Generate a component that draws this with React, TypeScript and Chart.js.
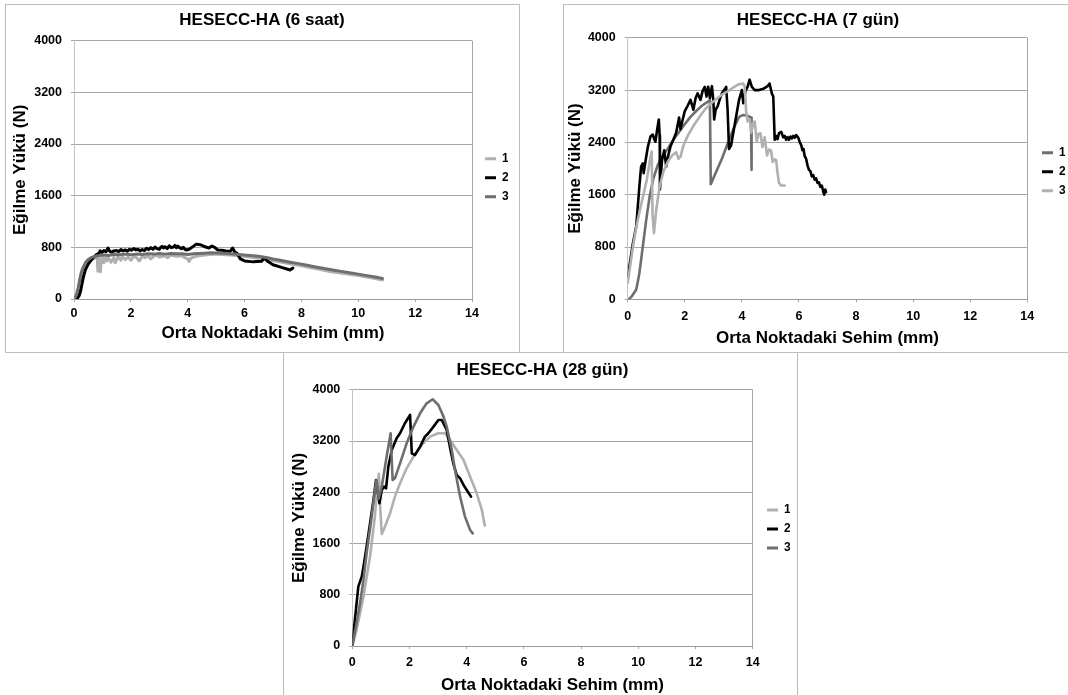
import React, { useEffect, useRef } from "react";
import { Chart, registerables } from "chart.js";

Chart.register(...registerables);

// ---------------- DATA ----------------
const yTickValues = [0, 800, 1600, 2400, 3200, 4000];
const xTickValues = [0, 2, 4, 6, 8, 10, 12, 14];
const seriesNames = ["1", "2", "3"];
const chartTitles = ["HESECC-HA (6 saat)", "HESECC-HA (7 gün)", "HESECC-HA (28 gün)"];
const xAxisTitle = "Orta Noktadaki Sehim (mm)";
const yAxisTitle = "Eğilme Yükü (N)";

// 6 saat
const saat6S1X = [0, 0.08, 0.15, 0.22, 0.3, 0.4, 0.5, 0.6, 0.7, 0.78, 0.82, 0.84, 0.87, 0.93, 0.96, 1.0, 1.05, 1.1, 1.15, 1.2, 1.3, 1.4, 1.45, 1.55, 1.65, 1.7, 1.8, 1.9, 2.0, 2.1, 2.2, 2.3, 2.4, 2.5, 2.6, 2.7, 2.8, 2.9, 3.0, 3.2, 3.3, 3.4, 3.6, 3.8, 3.9, 4.0, 4.05, 4.1, 4.2, 4.4, 4.6, 4.8, 5.0, 5.2, 5.5, 5.8, 6.1, 6.5, 7.0, 7.5, 8.0, 8.5, 9.0, 9.5, 10.0, 10.5, 10.85];
const saat6S1Y = [0, 40, 110, 220, 380, 500, 570, 610, 630, 640, 620, 430, 630, 420, 620, 640, 560, 630, 590, 640, 570, 640, 560, 650, 600, 660, 610, 650, 600, 660, 640, 590, 660, 640, 670, 620, 660, 680, 650, 670, 640, 680, 660, 670, 640, 620, 580, 630, 650, 670, 680, 690, 695, 690, 680, 670, 655, 630, 595, 555, 515, 470, 425, 395, 365, 325, 295];
const saat6S2X = [0.05, 0.12, 0.18, 0.23, 0.28, 0.33, 0.4, 0.5, 0.6, 0.7, 0.8, 0.88, 0.92, 0.98, 1.05, 1.12, 1.2, 1.25, 1.32, 1.4, 1.5, 1.58, 1.65, 1.72, 1.8, 1.88, 1.95, 2.02, 2.1, 2.18, 2.25, 2.32, 2.4, 2.48, 2.55, 2.62, 2.7, 2.78, 2.85, 2.92, 3.0, 3.05, 3.1, 3.15, 3.2, 3.28, 3.35, 3.42, 3.5, 3.55, 3.6, 3.65, 3.7, 3.78, 3.85, 3.9, 3.95, 4.05, 4.15, 4.3, 4.45, 4.6, 4.75, 4.85, 4.95, 5.05, 5.2, 5.35, 5.5, 5.58, 5.65, 5.75, 5.85, 6.0, 6.3, 6.6, 6.7, 6.8, 7.0, 7.3, 7.6, 7.7];
const saat6S2Y = [0, 10, 50, 120, 230, 340, 450, 540, 600, 650, 690, 710, 745, 720, 750, 730, 790, 740, 725, 745, 750, 735, 765, 745, 760, 740, 770, 755, 780, 760, 770, 745, 765, 750, 785, 765, 795, 770, 805, 780, 770, 800, 815, 790, 810, 780, 825, 795, 805, 830, 795, 820, 800, 780, 800, 770, 760, 770, 800, 850, 840, 810, 790, 820, 800, 760, 755, 745, 740, 790, 730, 700, 620, 590, 575, 585, 640, 590, 530, 490, 450, 480];
const saat6S3X = [0, 0.05, 0.1, 0.15, 0.2, 0.25, 0.3, 0.4, 0.5, 0.6, 0.7, 0.8, 0.9, 1.0, 1.2, 1.4, 1.6, 1.8, 2.0, 2.2, 2.4, 2.6, 2.8, 3.0, 3.2, 3.4, 3.6, 3.8, 4.0, 4.2, 4.4, 4.6, 4.8, 5.0, 5.2, 5.4, 5.6, 5.8, 6.0, 6.2, 6.4, 6.6, 6.8, 7.0, 7.3, 7.6, 7.9, 8.2, 8.5, 8.8, 9.1, 9.4, 9.7, 10.0, 10.3, 10.6, 10.85];
const saat6S3Y = [0, 30, 90, 180, 300, 400, 470, 560, 610, 640, 655, 665, 675, 680, 675, 690, 685, 695, 685, 695, 690, 700, 695, 705, 695, 705, 700, 700, 690, 700, 705, 710, 715, 712, 708, 704, 698, 690, 680, 672, 665, 655, 640, 620, 595, 570, 548, 522, 496, 472, 450, 428, 405, 385, 362, 340, 318];

// 7 gün
const gun7S1X = [0.04, 0.15, 0.3, 0.41, 0.53, 0.65, 0.77, 0.9, 1.05, 1.2, 1.4, 1.6, 1.8, 2.0, 2.2, 2.4, 2.6, 2.8, 2.88, 2.91, 3.1, 3.3, 3.5, 3.7, 3.9, 4.05, 4.2, 4.32, 4.34];
const gun7S1Y = [0, 50, 150, 400, 810, 1220, 1575, 1850, 2050, 2180, 2300, 2440, 2560, 2680, 2790, 2880, 2960, 3020, 3050, 1760, 1950, 2150, 2380, 2600, 2790, 2820, 2810, 2780, 1980];
const gun7S2X = [0, 0.08, 0.18, 0.3, 0.41, 0.47, 0.53, 0.56, 0.63, 0.71, 0.8, 0.88, 0.93, 0.97, 1.03, 1.09, 1.12, 1.13, 1.2, 1.28, 1.35, 1.42, 1.5, 1.6, 1.7, 1.8, 1.85, 1.9, 2.0, 2.1, 2.2, 2.3, 2.38, 2.45, 2.55, 2.62, 2.7, 2.76, 2.82, 2.88, 2.95, 3.0, 3.03, 3.08, 3.15, 3.22, 3.3, 3.38, 3.45, 3.5, 3.55, 3.62, 3.7, 3.8, 3.9, 4.0, 4.05, 4.12, 4.2, 4.27, 4.35, 4.45, 4.6, 4.75, 4.9, 4.97, 5.05, 5.1, 5.15, 5.2, 5.25, 5.3, 5.38, 5.45, 5.5, 5.55, 5.6, 5.65, 5.7, 5.75, 5.8, 5.85, 5.9, 5.98, 6.03, 6.08, 6.12, 6.16, 6.2, 6.25, 6.3, 6.35, 6.4, 6.45, 6.5, 6.55, 6.6, 6.65, 6.7, 6.75, 6.8, 6.85, 6.88, 6.92, 6.95];
const gun7S2Y = [350, 560, 850, 1120, 1730, 2030, 2080, 1930, 2130, 2340, 2490, 2520, 2450, 2410, 2590, 2750, 2500, 1680, 2120, 2280, 2030, 2200, 2340, 2440, 2550, 2780, 2600, 2700, 2880, 2960, 3050, 2900, 3080, 3150, 3050, 3180, 3250, 3100, 3250, 3080, 3260, 3050, 2750, 2900, 2950, 3050, 3150, 3200, 3250, 2900, 2300, 2350, 2550, 2800, 3050, 3200, 3000, 3180, 3250, 3360, 3250, 3200, 3200, 3220, 3260, 3300, 3150, 3100, 2440, 2500, 2450, 2540, 2560, 2480, 2500, 2440, 2480, 2440, 2490, 2460, 2500, 2470, 2510, 2470, 2400, 2360, 2280, 2300, 2190, 2150, 2050, 1980, 1960, 1880, 1900, 1830, 1850, 1780, 1790, 1720, 1740, 1650, 1600, 1680, 1640];
const gun7S3X = [0, 0.1, 0.2, 0.3, 0.43, 0.55, 0.67, 0.78, 0.84, 0.87, 0.92, 1.0, 1.12, 1.25, 1.4, 1.55, 1.7, 1.78, 1.85, 1.95, 2.1, 2.3, 2.5, 2.7, 2.9, 3.1, 3.3, 3.5, 3.7, 3.9, 4.05, 4.1, 4.15, 4.2, 4.28, 4.33, 4.4, 4.45, 4.52, 4.58, 4.65, 4.72, 4.8, 4.88, 4.95, 5.02, 5.08, 5.15, 5.2, 5.25, 5.3, 5.38, 5.5];
const gun7S3Y = [250, 550, 850, 1100, 1370, 1600, 1830, 2130, 2260, 1300, 1010, 1370, 1730, 1950, 2100, 2200, 2250, 2150, 2180, 2350, 2500, 2650, 2780, 2900, 2990, 3060, 3130, 3180, 3240, 3290, 3300, 3250, 2870, 2720, 2750, 2550, 2700, 2720, 2420, 2530, 2540, 2330, 2480, 2200, 2290, 2280, 2100, 2140, 2130, 1930, 1780, 1740, 1740];

// 28 gün
const gun28S1X = [0, 0.15, 0.39, 0.62, 0.79, 0.85, 0.93, 0.97, 1.03, 1.14, 1.32, 1.49, 1.67, 1.9, 2.14, 2.43, 2.72, 3.0, 3.24, 3.42, 3.65, 3.89, 4.12, 4.35, 4.53, 4.63];
const gun28S1Y = [0, 250, 770, 1395, 2020, 2350, 2690, 2200, 1750, 1863, 2072, 2332, 2540, 2774, 2956, 3139, 3269, 3321, 3321, 3217, 3060, 2904, 2644, 2384, 2124, 1880];
const gun28S2X = [0, 0.035, 0.09, 0.15, 0.21, 0.27, 0.33, 0.39, 0.5, 0.62, 0.74, 0.83, 0.88, 0.95, 1.03, 1.11, 1.18, 1.26, 1.38, 1.55, 1.67, 1.84, 2.02, 2.08, 2.19, 2.37, 2.54, 2.66, 2.84, 3.01, 3.13, 3.3, 3.41, 3.53, 3.65, 3.77, 3.89, 4.0, 4.15];
const gun28S2Y = [0, 146, 406, 666, 926, 1005, 1083, 1239, 1551, 1915, 2280, 2592, 2436, 2228, 2436, 2488, 2462, 2800, 3060, 3243, 3321, 3477, 3607, 3008, 2982, 3113, 3269, 3321, 3425, 3529, 3529, 3373, 3113, 2852, 2670, 2618, 2514, 2436, 2332];
const gun28S3X = [0, 0.15, 0.27, 0.39, 0.5, 0.68, 0.79, 0.85, 0.92, 1.03, 1.2, 1.34, 1.41, 1.49, 1.67, 1.9, 2.14, 2.37, 2.6, 2.81, 3.01, 3.19, 3.3, 3.48, 3.59, 3.77, 3.94, 4.12, 4.21];
const gun28S3Y = [0, 354, 666, 1031, 1447, 2020, 2436, 2592, 2300, 2488, 2956, 3321, 2592, 2618, 2852, 3165, 3425, 3633, 3789, 3852, 3763, 3581, 3425, 3060, 2748, 2332, 2020, 1811, 1759];

// ---------------- STYLE ----------------
const FONT = "'Liberation Sans', Arial, Helvetica, sans-serif";
const LIGHT = "#b0b0b0";
const DARK = "#6e6e6e";
const BLACK = "#000000";
const GRID = "#a6a6a6";
const AXIS_Y = "#c4c4c4";
const AXIS_X = "#9a9a9a";
const PANEL = "#bdbdbd";

const zip = (xs: number[], ys: number[]) => xs.map((x, i) => ({ x, y: ys[i] }));

const placement = {
  id: "placement",
  afterLayout(chart: any, _args: any, opts: any) {
    const t = chart.titleBlock;
    if (t && typeof opts.titleX === "number") {
      const half = (t.right - t.left) / 2;
      t.left = opts.titleX - half;
      t.right = opts.titleX + half;
    }
    const lg = chart.legend;
    if (lg && typeof opts.legendX === "number") {
      const pad = lg.options.labels.padding;
      const w = lg.width;
      lg.left = opts.legendX - pad;
      lg.right = lg.left + w;
      lg.top = opts.legendY - 60;
      lg.bottom = opts.legendY + 60;
      lg.height = 120;
    }
  },
};

type Spec = {
  box: { left: number; top: number; width: number; height: number };
  W: number; H: number;
  plotLeft: number; plotRight: number; plotBottom: number;
  title: string; titleX: number; titlePadTop: number; titlePadBottom: number;
  yTitlePad: number; xTickPad: number; xTitlePadBottom: number;
  legendX: number; legendY: number;
  lineWidth: number;
  series: { xs: number[]; ys: number[]; color: string }[];
};

const specs: Spec[] = [
  {
    box: { left: 5, top: 4, width: 515, height: 349 },
    W: 513, H: 347,
    plotLeft: 68, plotRight: 466, plotBottom: 294,
    title: chartTitles[0], titleX: 256, titlePadTop: 4.8, titlePadBottom: 10.5,
    yTitlePad: 4.1, xTickPad: 4, xTitlePadBottom: 8.5,
    legendX: 479, legendY: 172.7, lineWidth: 3,
    series: [
      { xs: saat6S1X, ys: saat6S1Y, color: LIGHT },
      { xs: saat6S2X, ys: saat6S2Y, color: BLACK },
      { xs: saat6S3X, ys: saat6S3Y, color: DARK },
    ],
  },
  {
    box: { left: 563, top: 4, width: 506, height: 349 },
    W: 504, H: 347,
    plotLeft: 63.7, plotRight: 463.3, plotBottom: 294.3,
    title: chartTitles[1], titleX: 254, titlePadTop: 5.5, titlePadBottom: 6.9,
    yTitlePad: 1.0, xTickPad: 6.5, xTitlePadBottom: 3.5,
    legendX: 478, legendY: 166.7, lineWidth: 2.6,
    series: [
      { xs: gun7S1X, ys: gun7S1Y, color: DARK },
      { xs: gun7S2X, ys: gun7S2Y, color: BLACK },
      { xs: gun7S3X, ys: gun7S3Y, color: LIGHT },
    ],
  },
  {
    box: { left: 283, top: 352, width: 515, height: 370 },
    W: 513, H: 368,
    plotLeft: 68.3, plotRight: 468.7, plotBottom: 293,
    title: chartTitles[2], titleX: 258.4, titlePadTop: 7.1, titlePadBottom: 9.3,
    yTitlePad: 4.7, xTickPad: 5.8, xTitlePadBottom: 25.5,
    legendX: 483, legendY: 176, lineWidth: 2.6,
    series: [
      { xs: gun28S1X, ys: gun28S1Y, color: LIGHT },
      { xs: gun28S2X, ys: gun28S2Y, color: BLACK },
      { xs: gun28S3X, ys: gun28S3Y, color: DARK },
    ],
  },
];

const LEGEND_W = 30;

function buildConfig(spec: Spec): any {
  const tickFont = { family: FONT, size: 12.5, weight: "bold" as const };
  const titleFont = { family: FONT, size: 17, weight: "bold" as const, lineHeight: 1.2 };
  return {
    type: "scatter",
    data: {
      datasets: spec.series.map((s, i) => ({
        label: seriesNames[i],
        data: zip(s.xs, s.ys),
        borderColor: s.color,
        backgroundColor: s.color,
        borderWidth: spec.lineWidth,
        pointRadius: 0,
        pointHoverRadius: 0,
        showLine: true,
        fill: false,
        tension: 0,
        borderJoinStyle: "round",
        borderCapStyle: "round",
        order: 3 - i,
      })),
    },
    plugins: [placement],
    options: {
      animation: false,
      responsive: false,
      maintainAspectRatio: false,
      devicePixelRatio: 1,
      events: [],
      layout: { padding: { left: 0, top: 0, bottom: 0, right: spec.W - spec.plotRight - LEGEND_W } },
      scales: {
        x: {
          type: "linear",
          min: 0,
          max: 14,
          afterBuildTicks: (s: any) => {
            s.ticks = xTickValues.map((v) => ({ value: v }));
          },
          afterFit: (s: any) => {
            s.height = spec.H - spec.plotBottom;
          },
          grid: {
            color: (ctx: any) => (ctx.tick && ctx.tick.value === 14 ? GRID : "rgba(0,0,0,0)"),
            tickColor: GRID,
            tickLength: 3,
            lineWidth: 1,
          },
          border: { display: true, color: AXIS_X, width: 1 },
          ticks: {
            font: tickFont,
            color: "#000",
            padding: spec.xTickPad,
            maxRotation: 0,
            autoSkip: false,
            callback: (v: any) => String(v),
          },
          title: {
            display: true,
            text: xAxisTitle,
            color: "#000",
            font: titleFont,
            padding: { top: 0, bottom: spec.xTitlePadBottom },
          },
        },
        y: {
          type: "linear",
          min: 0,
          max: 4000,
          afterBuildTicks: (s: any) => {
            s.ticks = yTickValues.map((v) => ({ value: v }));
          },
          afterFit: (s: any) => {
            s.width = spec.plotLeft;
          },
          grid: { color: GRID, tickColor: GRID, tickLength: 3, lineWidth: 1 },
          border: { display: true, color: AXIS_Y, width: 1 },
          ticks: {
            font: tickFont,
            color: "#000",
            padding: 9,
            callback: (v: any) => String(v),
          },
          title: {
            display: true,
            text: yAxisTitle,
            color: "#000",
            font: titleFont,
            padding: { top: spec.yTitlePad, bottom: 0 },
          },
        },
      },
      plugins: {
        tooltip: { enabled: false },
        title: {
          display: true,
          text: spec.title,
          color: "#000",
          font: titleFont,
          padding: { top: spec.titlePadTop, bottom: spec.titlePadBottom },
        },
        legend: {
          display: true,
          position: "right",
          align: "center",
          maxWidth: LEGEND_W,
          labels: {
            boxWidth: 11,
            boxHeight: 3,
            padding: 7,
            color: "#000",
            font: { family: FONT, size: 12, weight: "bold" },
            generateLabels: (chart: any) =>
              chart.data.datasets.map((ds: any, i: number) => ({
                text: ds.label,
                fillStyle: ds.borderColor,
                strokeStyle: ds.borderColor,
                lineWidth: 0,
                hidden: false,
                datasetIndex: i,
                fontColor: "#000",
              })),
          },
        },
        placement: { titleX: spec.titleX, legendX: spec.legendX, legendY: spec.legendY },
      },
    },
  };
}

function Panel({ spec }: { spec: Spec }) {
  const ref = useRef<HTMLCanvasElement | null>(null);
  useEffect(() => {
    if (!ref.current) return;
    const chart = new Chart(ref.current, buildConfig(spec));
    return () => chart.destroy();
  }, [spec]);
  return (
    <div
      style={{
        position: "absolute",
        left: spec.box.left,
        top: spec.box.top,
        width: spec.box.width,
        height: spec.box.height,
        border: `1px solid ${PANEL}`,
        boxSizing: "border-box",
        background: "#fff",
      }}
    >
      <canvas
        ref={ref}
        width={spec.W}
        height={spec.H}
        style={{ position: "absolute", left: 0, top: 0, width: spec.W, height: spec.H, display: "block" }}
      />
    </div>
  );
}

export default function App() {
  return (
    <div
      style={{
        position: "fixed",
        left: 0,
        top: 0,
        width: 1068,
        height: 695,
        overflow: "hidden",
        background: "#fff",
      }}
    >
      {specs.map((s, i) => (
        <Panel key={i} spec={s} />
      ))}
    </div>
  );
}
